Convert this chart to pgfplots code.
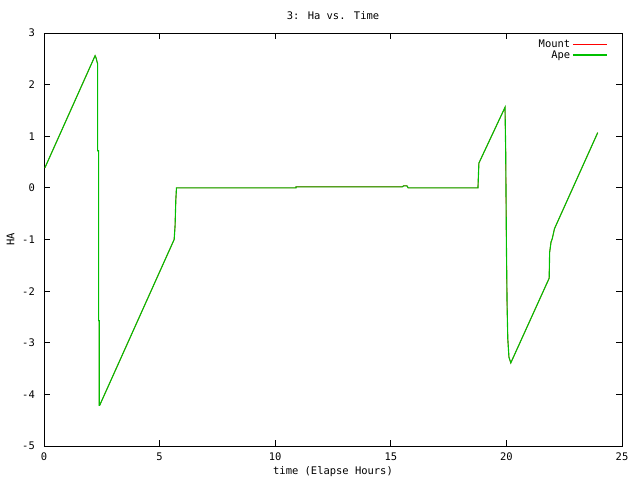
\documentclass[border=0pt]{standalone}
\usepackage{pgfplots}
\pgfplotsset{compat=1.18}
\usepackage{fontspec}
\setmainfont{DejaVu Sans Mono}
\definecolor{gpred}{RGB}{255,0,0}
\definecolor{gpgreen}{RGB}{0,192,0}
\begin{document}
\fontsize{10.5}{12}\selectfont
\begin{tikzpicture}
\begin{axis}[
    name=ax,
    scale only axis,
    width=578bp, height=413bp,
    xmin=0, xmax=25, ymin=-5, ymax=3,
    xtick={0,5,...,25},
    ytick={-5,-4,...,3},
    yticklabels={-5,-4,-3,-2,-1,0,1,2,3},
    /pgf/number format/assume math mode=true,
    tick align=inside,
    major tick length=6bp,
    axis line style={line width=0.9bp},
    tick style={line width=0.9bp, black},
    xticklabel style={anchor=center, inner sep=0pt, yshift=-11bp},
    yticklabel style={anchor=east, inner sep=0pt, xshift=-9bp},
    title={3: Ha vs. Time},
    title style={at={(rel axis cs:0.5,1.028)}, anchor=center, inner sep=0pt},
    xlabel={time (Elapse Hours)},
    ylabel={HA},
    xlabel style={at={(rel axis cs:0.5,-0.062)}, anchor=center, inner sep=0pt},
    ylabel style={at={(rel axis cs:-0.058,0.5)}, anchor=center, inner sep=0pt},
    legend style={at={(rel axis cs:1,1)}, anchor=north east, xshift=-14bp, yshift=-4bp,
      draw=none, fill=none, row sep=-2.5bp, inner sep=0.5bp,
      /tikz/every even column/.append style={column sep=4bp}},
    legend plot pos=right,
    legend cell align=right,
    legend image code/.code={\draw[#1] (0bp,0bp) -- (34bp,0bp);},
    clip=false,
]
\addplot[gpred, line width=0.7bp, forget plot] coordinates {
(0.04,0.39) (2.21,2.56) (2.25,2.52) (2.32,2.40) (2.32,0.72) (2.36,0.72)
(2.36,-2.57) (2.39,-2.57) (2.39,-4.21) (2.41,-4.21) (5.63,-1.00) (5.67,-0.73)
(5.70,-0.25) (5.73,0.00) (10.9,0.00) (10.9,0.02) (15.5,0.02) (15.55,0.04)
(15.7,0.04) (15.75,0.00) (18.77,0.00) (18.81,0.48) (19.94,1.56) (19.97,0.69)
(20.00,-1.08) (20.03,-2.28) (20.06,-2.92) (20.11,-3.28) (20.19,-3.39)
(21.85,-1.75) (21.87,-1.25) (21.93,-1.05) (21.98,-0.99) (22.08,-0.79) (23.95,1.07)
};
\addplot[gpgreen, line width=1.1bp, forget plot] coordinates {
(0.04,0.39) (2.21,2.56) (2.25,2.52) (2.32,2.40) (2.32,0.72) (2.36,0.72)
(2.36,-2.57) (2.39,-2.57) (2.39,-4.21) (2.41,-4.21) (5.63,-1.00) (5.67,-0.73)
(5.70,-0.25) (5.73,0.00) (10.9,0.00) (10.9,0.02) (15.5,0.02) (15.55,0.04)
(15.7,0.04) (15.75,0.00) (18.77,0.00) (18.81,0.48) (19.94,1.56) (19.97,0.69)
(20.00,-1.08) (20.03,-2.28) (20.06,-2.92) (20.11,-3.28) (20.19,-3.39)
(21.85,-1.75) (21.87,-1.25) (21.93,-1.05) (21.98,-0.99) (22.08,-0.79) (23.95,1.07)
};
\addlegendimage{gpred, line width=1.1bp}
\addlegendentry{Mount}
\addlegendimage{gpgreen, line width=1.1bp}
\addlegendentry{Ape}
\end{axis}
\useasboundingbox (ax.south west) ++(-44bp,-34bp) rectangle ++(640bp,480bp);
\end{tikzpicture}
\end{document}
